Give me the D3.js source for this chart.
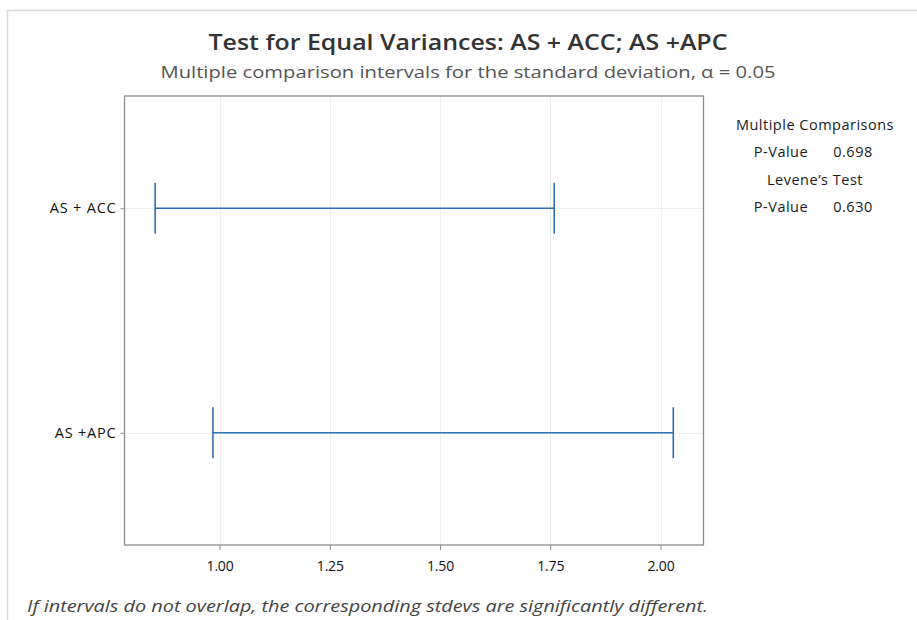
<!DOCTYPE html>
<html>
<head>
<meta charset="utf-8">
<script src="https://cdn.jsdelivr.net/npm/d3@7"></script>
<style>
  html, body { margin: 0; padding: 0; background: #fff; }
  svg { display: block; font-family: "Open Sans", "Noto Sans", sans-serif; }
</style>
</head>
<body>
<svg id="chart" width="917" height="620"></svg>
<script>
// Groups compared and their confidence intervals for the standard deviation
const groups = ["AS + ACC", "AS +APC"];
const lowerBounds = [0.854, 0.985];
const upperBounds = [1.759, 2.029];
const xTicks = [1.00, 1.25, 1.50, 1.75, 2.00];

// Summary table shown to the right of the plot
const summaryRows = [
  { kind: "head", text: "Multiple Comparisons" },
  { kind: "pair", label: "P-Value", value: "0.698" },
  { kind: "head", text: "Levene\u2019s Test" },
  { kind: "pair", label: "P-Value", value: "0.630" }
];

const titleText = "Test for Equal Variances: AS + ACC; AS +APC";
const subtitleText = "Multiple comparison intervals for the standard deviation, \u03b1 = 0.05";
const footnoteText = "If intervals do not overlap, the corresponding stdevs are significantly different.";

const svg = d3.select("#chart");
const W = 917, H = 620;
const plot = { left: 124.5, top: 96, right: 703.5, bottom: 545 };
const font = "'Open Sans', 'Noto Sans', sans-serif";

// outer frame (top and left edges)
svg.append("path")
  .attr("d", `M7.5,${H} V10.5 H${W}`)
  .attr("fill", "none").attr("stroke", "#d9d9d9").attr("stroke-width", 1.5);

const x = d3.scaleLinear().domain([0.7845, 2.0975]).range([plot.left, plot.right]);
const y = d3.scalePoint().domain(groups).range([plot.top, plot.bottom]).padding(0.5);

// gridlines
const grid = svg.append("g").attr("stroke", "#efefef").attr("stroke-width", 1);
grid.selectAll("line.gx").data(xTicks).join("line")
  .attr("x1", d => Math.round(x(d)) + 0.5).attr("x2", d => Math.round(x(d)) + 0.5)
  .attr("y1", plot.top).attr("y2", plot.bottom);
grid.selectAll("line.gy").data(groups).join("line")
  .attr("x1", plot.left).attr("x2", plot.right)
  .attr("y1", d => Math.round(y(d)) + 0.5).attr("y2", d => Math.round(y(d)) + 0.5);

// plot frame
svg.append("rect")
  .attr("x", plot.left).attr("y", plot.top)
  .attr("width", plot.right - plot.left).attr("height", plot.bottom - plot.top)
  .attr("fill", "none").attr("stroke", "#8c8c8c").attr("stroke-width", 1.3);

// x axis
const xAxis = svg.append("g")
  .attr("transform", `translate(0,${plot.bottom})`)
  .call(d3.axisBottom(x).tickValues(xTicks).tickFormat(d3.format(".2f")).tickSize(5).tickPadding(11));
xAxis.select(".domain").remove();
xAxis.selectAll("line").attr("stroke", "#8c8c8c");
xAxis.selectAll("text").attr("font-size", 14).attr("fill", "#111")
  .attr("font-family", font).attr("letter-spacing", "-0.2");

// y axis
const yAxis = svg.append("g")
  .attr("transform", `translate(${plot.left},0)`)
  .call(d3.axisLeft(y).tickSize(4).tickPadding(4));
yAxis.select(".domain").remove();
yAxis.selectAll("line").attr("stroke", "#8c8c8c");
yAxis.selectAll("text").attr("font-size", 14.5).attr("fill", "#111")
  .attr("font-family", font).attr("letter-spacing", "0.8");

// interval bars with end caps
const blue = "#2f6db5";
const capHalf = 25.5;
const bars = svg.append("g").attr("stroke", blue).attr("stroke-width", 1.6).attr("fill", "none");
groups.forEach((g, i) => {
  const yy = y(g);
  bars.append("line").attr("x1", x(lowerBounds[i])).attr("x2", x(upperBounds[i]))
    .attr("y1", yy).attr("y2", yy);
  bars.append("line").attr("x1", x(lowerBounds[i])).attr("x2", x(lowerBounds[i]))
    .attr("y1", yy - capHalf).attr("y2", yy + capHalf);
  bars.append("line").attr("x1", x(upperBounds[i])).attr("x2", x(upperBounds[i]))
    .attr("y1", yy - capHalf).attr("y2", yy + capHalf);
});

// titles
svg.append("text").attr("x", 468).attr("y", 50).attr("text-anchor", "middle")
  .attr("font-size", 21).attr("font-weight", 600).attr("fill", "#333")
  .attr("font-family", font)
  .attr("textLength", 519).attr("lengthAdjust", "spacingAndGlyphs")
  .text(titleText);
svg.append("text").attr("x", 468).attr("y", 78).attr("text-anchor", "middle")
  .attr("font-size", 17).attr("fill", "#555")
  .attr("font-family", font)
  .attr("textLength", 615).attr("lengthAdjust", "spacingAndGlyphs")
  .text(subtitleText);

// summary table
const table = svg.append("g").attr("font-size", 14.5).attr("fill", "#1a1a1a")
  .attr("font-family", font).attr("letter-spacing", "0.5");
summaryRows.forEach((r, i) => {
  const ty = 130 + i * 27.3;
  if (r.kind === "head") {
    table.append("text").attr("x", 815).attr("y", ty).attr("text-anchor", "middle").text(r.text);
  } else {
    table.append("text").attr("x", 781).attr("y", ty).attr("text-anchor", "middle").text(r.label);
    table.append("text").attr("x", 853).attr("y", ty).attr("text-anchor", "middle").text(r.value);
  }
});

// footnote
svg.append("text").attr("x", 27).attr("y", 612)
  .attr("font-size", 16).attr("font-style", "italic").attr("fill", "#444")
  .attr("font-family", font)
  .attr("textLength", 681).attr("lengthAdjust", "spacingAndGlyphs")
  .text(footnoteText);
</script>
</body>
</html>
